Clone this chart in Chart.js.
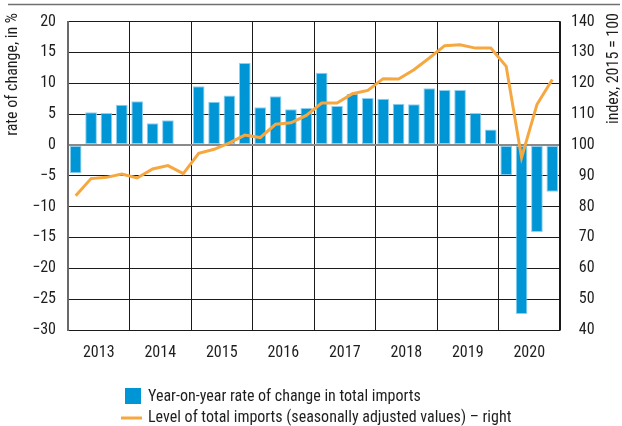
<!DOCTYPE html>
<html>
<head>
<meta charset="utf-8">
<script src="https://cdn.jsdelivr.net/npm/chart.js@4"></script>
<style>
html,body{margin:0;padding:0;background:#fff;}
#wrap{width:622px;height:426px;position:relative;}
</style>
</head>
<body>
<div id="wrap"><canvas id="c" width="622" height="426"></canvas></div>
<script>
const quarters = [];
const years = ['2013','2014','2015','2016','2017','2018','2019','2020'];
years.forEach(y => ['Q1','Q2','Q3','Q4'].forEach(q => quarters.push(y + ' ' + q)));

const rateOfChange = [-4.6, 5.3, 5.2, 6.5, 7.1, 3.5, 4.0, 0, 9.5, 7.0, 8.0, 13.3, 6.1, 7.9, 5.8, 6.0,
  11.7, 6.3, 8.3, 7.6, 7.5, 6.7, 6.6, 9.2, 8.9, 8.9, 5.2, 2.5, -4.9, -27.4, -14.1, -7.6];
const importLevel = [83.5, 89.1, 89.5, 90.6, 89.3, 92.2, 93.3, 90.7, 97.3, 98.6, 100.7, 103.2, 102.4, 106.7, 107.2, 109.6,
  113.6, 113.6, 116.6, 117.7, 121.5, 121.4, 124.4, 128.2, 132.2, 132.5, 131.4, 131.4, 125.5, 95.9, 113.1, 121.2];

const leftTicks = [-30, -25, -20, -15, -10, -5, 0, 5, 10, 15, 20];
const rightTicks = [40, 50, 60, 70, 80, 90, 100, 110, 120, 130, 140];

const leftTitle = 'rate of change, in %';
const rightTitle = 'index, 2015 = 100';
const barLabel = 'Year-on-year rate of change in total imports';
const lineLabel = 'Level of total imports (seasonally adjusted values) \u2013 right';

const BLUE = '#0096d6';
const ORANGE = '#f6a73f';
const TEXT = '#1e1e1e';

// pick a narrow font that is actually installed (reference uses a condensed sans)
const probe = document.createElement('canvas').getContext('2d');
function textW(stretch, family, size) {
  probe.font = (stretch ? stretch + ' ' : '') + size + 'px ' + family + ', monospace';
  return probe.measureText(barLabel).width;
}
const TARGET = 275;
const candidates = [
  ['', "'Liberation Sans Narrow'"],
  ['condensed', "'Liberation Sans'"],
  ['', "'Arial Narrow'"],
  ['semi-condensed', "'Noto Sans'"],
  ['condensed', "'Noto Sans'"],
  ['condensed', "'Open Sans'"],
  ['semi-condensed', "'Open Sans'"],
  ['condensed', "Roboto"]
];
let FONT_STRETCH = '', FONT_FAMILY = "'Liberation Sans'", FONT_SIZE = 15;
for (const [st, fam] of candidates) {
  const w16 = textW(st, fam, 16);
  const size = 16 * TARGET / w16;
  if (size >= 15 && size <= 17.5) {
    FONT_STRETCH = st; FONT_FAMILY = fam; FONT_SIZE = Math.round(size * 2) / 2;
    break;
  }
}
const FONT_FAMILY_FULL = FONT_FAMILY + ", 'Liberation Sans', sans-serif";
const fontStr = () => (FONT_STRETCH ? FONT_STRETCH + ' ' : '') + FONT_SIZE + 'px ' + FONT_FAMILY_FULL;

Chart.defaults.font.family = FONT_FAMILY_FULL;
Chart.defaults.font.size = FONT_SIZE;
if (FONT_STRETCH) Chart.defaults.font.weight = FONT_STRETCH;
Chart.defaults.color = TEXT;

const fmtLeft = v => String(v).replace('-', '\u2212');
const fmtRight = v => (v < 100 ? '\u2007' : '') + v;

const decor = {
  id: 'decor',
  afterDraw(chart) {
    const ctx = chart.ctx;
    ctx.save();
    // top rule
    ctx.strokeStyle = '#707070';
    ctx.lineWidth = 1.5;
    ctx.beginPath(); ctx.moveTo(8, 4.5); ctx.lineTo(620, 4.5); ctx.stroke();
    // axis titles
    ctx.fillStyle = TEXT;
    ctx.font = fontStr();
    ctx.textBaseline = 'middle';
    ctx.textAlign = 'right';
    ctx.save(); ctx.translate(13, 13); ctx.rotate(-Math.PI / 2); ctx.fillText(leftTitle, 0, 0); ctx.restore();
    ctx.save(); ctx.translate(614, 13); ctx.rotate(-Math.PI / 2); ctx.fillText(rightTitle, 0, 0); ctx.restore();
    // legend
    ctx.textAlign = 'left';
    ctx.fillStyle = BLUE;
    ctx.fillRect(125, 388, 16, 16);
    ctx.fillStyle = TEXT;
    ctx.fillText(barLabel, 148, 396.5);
    ctx.strokeStyle = ORANGE;
    ctx.lineWidth = 3;
    ctx.beginPath(); ctx.moveTo(121, 418); ctx.lineTo(142, 418); ctx.stroke();
    ctx.fillText(lineLabel, 148, 418);
    ctx.restore();
  }
};

new Chart(document.getElementById('c'), {
  data: {
    labels: quarters,
    datasets: [
      {
        type: 'line',
        label: lineLabel,
        data: importLevel,
        yAxisID: 'y1',
        xAxisID: 'x',
        borderColor: ORANGE,
        borderWidth: 3,
        pointRadius: 0,
        tension: 0,
        order: 0
      },
      {
        type: 'bar',
        label: barLabel,
        data: rateOfChange,
        yAxisID: 'y',
        xAxisID: 'x',
        backgroundColor: BLUE,
        borderColor: '#8fd0f0',
        borderWidth: 1,
        borderSkipped: false,
        barPercentage: 0.76,
        categoryPercentage: 1,
        order: 1
      }
    ]
  },
  options: {
    responsive: false,
    animation: false,
    layout: { padding: { top: 20, left: 0, right: 0, bottom: 51 } },
    plugins: { legend: { display: false }, tooltip: { enabled: false } },
    scales: {
      x: { type: 'category', display: false, offset: true },
      x2: {
        type: 'category',
        labels: years,
        position: 'bottom',
        offset: true,
        grid: { offset: true, color: '#1a1a1a', lineWidth: 1, drawTicks: false },
        border: { display: false },
        ticks: { padding: 13, color: TEXT },
        afterFit(s) { s.height = 45; }
      },
      y: {
        position: 'left',
        min: -30, max: 20,
        afterBuildTicks(s) { s.ticks = leftTicks.map(v => ({ value: v })); },
        ticks: { callback: v => fmtLeft(v), padding: 12, color: TEXT },
        grid: {
          drawTicks: false,
          color: c => c.tick && c.tick.value === 0 ? '#8a8a8a' : '#1a1a1a',
          lineWidth: c => c.tick && c.tick.value === 0 ? 2 : 1
        },
        border: { display: true, color: '#6a6a6a', width: 2 },
        afterFit(s) { s.width = 68; }
      },
      y1: {
        position: 'right',
        min: 40, max: 140,
        afterBuildTicks(s) { s.ticks = rightTicks.map(v => ({ value: v })); },
        ticks: { callback: v => fmtRight(v), padding: 11, crossAlign: 'near', color: TEXT },
        grid: { display: false, drawTicks: false },
        border: { display: true, color: '#1a1a1a', width: 1.5 },
        afterFit(s) { s.width = 62; }
      }
    }
  },
  plugins: [decor]
});
</script>
</body>
</html>
